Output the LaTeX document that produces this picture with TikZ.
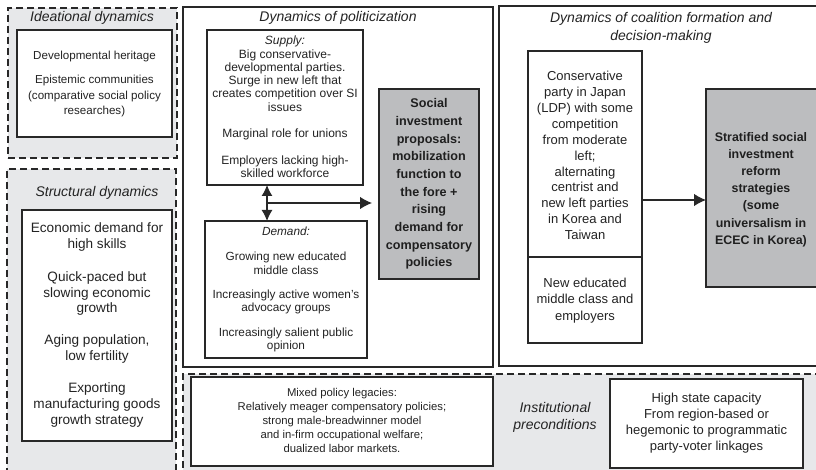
\documentclass[tikz,border=0pt]{standalone}
\usepackage{fontspec}
\setmainfont{Liberation Sans}
\usetikzlibrary{arrows.meta}
\definecolor{ln}{RGB}{40,40,40}
\definecolor{tx}{RGB}{35,35,35}
\definecolor{boxgray}{RGB}{188,189,191}
\definecolor{bggray}{RGB}{231,232,234}
\newcommand{\fsz}[2]{\fontsize{#1}{#2}\selectfont}
\tikzset{
 outerbox/.style={draw=ln, line width=1.4pt, fill=white},
 dashbox/.style={draw=ln, line width=1.5pt, dash pattern=on 7pt off 4pt, fill=bggray},
 innerbox/.style={draw=ln, line width=1.1pt, fill=white},
 graybox/.style={draw=ln, line width=1.1pt, fill=boxgray},
 bx/.style={anchor=north west, inner sep=0pt, outer sep=0pt},
 txt/.style={align=center, inner sep=0pt, text=tx},
 ttl/.style={align=center, inner sep=0pt, text=tx, font=\itshape\fsz{14}{18}},
 arr/.style={draw=ln, line width=1.1pt, -{Latex[length=12pt,width=12.5pt]}},
 dblarr/.style={draw=ln, line width=1.1pt, {Latex[length=11pt,width=11pt]}-{Latex[length=11pt,width=11pt]}},
}
\begin{document}
\begin{tikzpicture}[x=1pt,y=-1pt]
\useasboundingbox (0,0) rectangle (816,470);
\clip (0,0) rectangle (816,470);
% dashed regions
\node[dashbox, bx, minimum width=169pt, minimum height=150pt] (ideaD) at (8,8) {};
\node[dashbox, bx, minimum width=169pt, minimum height=309pt] (structD) at (7,169) {};
\node[dashbox, bx, minimum width=647pt, minimum height=104pt] (instD) at (183,374) {};
% outer solid boxes
\node[outerbox, bx, minimum width=310pt, minimum height=360pt] (polit) at (183,7) {};
\node[outerbox, bx, minimum width=325pt, minimum height=360pt] (coal) at (499,6) {};
% inner boxes
\node[innerbox, bx, minimum width=155pt, minimum height=107pt] (ideaB) at (17,30) {};
\node[innerbox, bx, minimum width=150pt, minimum height=231pt] (structB) at (22,210) {};
\node[innerbox, bx, minimum width=156pt, minimum height=155pt] (supply) at (207,30) {};
\node[innerbox, bx, minimum width=162pt, minimum height=137pt] (demand) at (205,221) {};
\node[graybox, bx, minimum width=100pt, minimum height=190pt] (polgray) at (379,89) {};
\node[innerbox, bx, minimum width=114pt, minimum height=206pt] (constop) at (528,51) {};
\node[innerbox, bx, minimum width=114pt, minimum height=86pt] (consbot) at (528,257) {};
\node[graybox, bx, minimum width=124pt, minimum height=198pt] (coalgray) at (706,89) {};
\node[innerbox, bx, minimum width=302pt, minimum height=89pt] (mixed) at (191,377) {};
\node[innerbox, bx, minimum width=193pt, minimum height=89pt] (statecap) at (610,379) {};
% titles
\node[ttl] (ideaT) at (92,18) {Ideational dynamics};
\node[ttl] (structT) at (97,193) {Structural dynamics};
\node[ttl] (politT) at (338,18) {Dynamics of politicization};
\node[ttl] (coalT) at (661,28) {Dynamics of coalition formation and\\decision-making};
\node[ttl, font=\itshape\fsz{14}{17}] (instT) at (555,417.5) {Institutional\\preconditions};
% ideational text
\node[txt, font=\fsz{11.6}{16}] (ideaA) at (94.5,57) {Developmental heritage};
\node[txt, font=\fsz{11.6}{16}] (ideaC) at (94.5,96) {Epistemic communities\\(comparative social policy\\researches)};
% structural text
\node[txt, font=\fsz{13.6}{16}] (stA) at (97,237) {Economic demand for\\high skills};
\node[txt, font=\fsz{13.6}{15.5}] (stB) at (97,293.5) {Quick-paced but\\slowing economic\\growth};
\node[txt, font=\fsz{13.6}{16}] (stC) at (97,349) {Aging population,\\low fertility};
\node[txt, font=\fsz{13.6}{16}] (stD) at (97,405) {Exporting\\manufacturing goods\\growth strategy};
% supply text
\node[txt, font=\fsz{12}{13.3}] (supA) at (285,107) {\textit{Supply:}\\Big conservative-\\developmental parties.\\Surge in new left that\\creates competition over SI\\issues\\[13.3pt]Marginal role for unions\\[13.3pt]Employers lacking high-\\skilled workforce};
% demand text
\node[txt, font=\itshape\fsz{11.8}{14}] (demA) at (286,231) {Demand:};
\node[txt, font=\fsz{11.8}{13.5}] (demB) at (286,263.5) {Growing new educated\\middle class};
\node[txt, font=\fsz{11.8}{13.5}] (demC) at (286,302) {Increasingly active women's\\advocacy groups};
\node[txt, font=\fsz{11.8}{13.5}] (demD) at (286,340) {Increasingly salient public\\opinion};
% politicization gray text
\node[txt, font=\bfseries\fsz{12.6}{17.7}, text=black!88] (polgT) at (polgray.center) {Social\\investment\\proposals:\\mobilization\\function to\\the fore +\\rising\\demand for\\compensatory\\policies};
% coalition text
\node[txt, font=\fsz{13}{15.9}] (consA) at (585,155.5) {Conservative\\party in Japan\\(LDP) with some\\competition\\from moderate\\left;\\alternating\\centrist and\\new left parties\\in Korea and\\Taiwan};
\node[txt, font=\fsz{13}{16.5}] (consB) at (585,300.5) {New educated\\middle class and\\employers};
\node[txt, font=\bfseries\fsz{12.4}{17.2}, text=black!88] (coalgT) at (761,189.5) {Stratified social\\investment\\reform\\strategies\\(some\\universalism in\\ECEC in Korea)};
% institutional text
\node[txt, font=\fsz{11.3}{14}] (mixT) at (342,420) {Mixed policy legacies:\\Relatively meager compensatory policies;\\strong male-breadwinner model\\and in-firm occupational welfare;\\dualized labor markets.};
\node[txt, font=\fsz{13}{16}] (capT) at (706.5,423) {High state capacity\\From region-based or\\hegemonic to programmatic\\party-voter linkages};
% connectors
\coordinate (vx) at (267,0);
\coordinate (hm) at (267,203);
\coordinate (cy) at (0,200);
\draw[dblarr] (supply.south -| vx) -- (demand.north -| vx);
\draw[arr, shorten >=7pt] (hm) -- (hm -| polgray.west);
\draw[arr] (constop.east |- cy) -- (coalgray.west |- cy);
\end{tikzpicture}
\end{document}
